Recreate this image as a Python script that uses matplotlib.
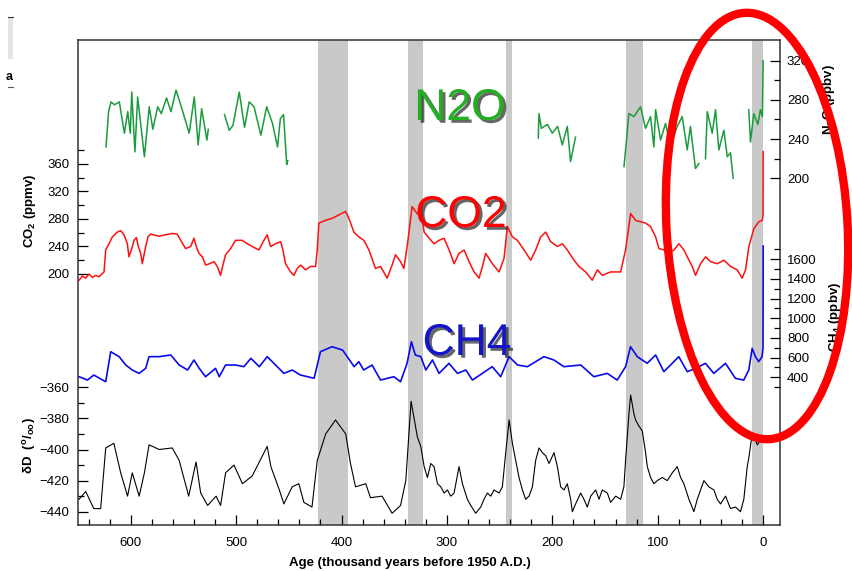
import numpy as np
import matplotlib
matplotlib.use('Agg')
import matplotlib.pyplot as plt
import matplotlib.patheffects as pe
from matplotlib.patches import Ellipse, Rectangle
from matplotlib.ticker import FixedLocator, MultipleLocator

plt.rcParams['font.family'] = ['Liberation Sans', 'DejaVu Sans']
plt.rcParams['mathtext.fontset'] = 'custom'
plt.rcParams['mathtext.rm'] = 'Liberation Sans'
plt.rcParams['mathtext.bf'] = 'Liberation Sans:bold'
plt.rcParams['mathtext.it'] = 'Liberation Sans:italic'

# ---- data (age in kyr before 1950) ----
co2_age = [649, 645.8, 642.7, 639.5, 636.4, 633.2, 630, 625.3, 623.7, 620.6, 617.4, 612.7, 609.5,
           606.3, 603.2, 601.6, 598.4, 596.9, 594.6, 592.8, 590.5, 589, 585.8, 583.6, 581,
           573.2, 566.8, 560.5, 555.8, 552.6, 547.9, 543.1, 540, 537.8, 535.2, 532, 528.9,
           525.1, 521, 517.9, 514.7, 512.5, 510, 505.2, 500.5, 494.2, 489.4, 484.7, 478.4,
           473.6, 470.5, 467.3, 462.6, 457.8, 455.6, 453.1, 448.3, 445.2, 442, 438.9, 434.1,
           429.4, 424.6, 423, 421.5, 415.2, 408.8, 402.5, 396.2, 393, 388.3, 383.6, 378.8,
           374, 367.8, 363, 356.7, 352, 348.8, 344, 340.9, 337.7, 333, 328.3, 323.5,
           321.6, 316.9, 312.2, 307.4, 302.7, 297.9, 293.2, 288.5, 283.7, 279, 274.2, 269.5,
           266.3, 263.2, 256.9, 250.5, 245.8, 242.6, 237.9, 233.2, 226.8, 220.5, 215.8, 211,
           206.3, 201.6, 195.2, 190.5, 185.8, 179.4, 174.7, 168.4, 162.1, 157.3, 152.6, 144.7,
           135.2, 130.5, 125.7, 121, 116.2, 111.5, 106.8, 102, 98.9, 94.1, 89.4, 84.6, 79.9,
           75.2, 72, 67.3, 64.1, 59.4, 54.6, 49.9, 43.6, 37.2, 30.9, 24.6, 19.9, 16.7, 13.5,
           8.8, 4.1, 0.9, 0.1, -0.05]
co2_val = [191, 197, 194, 200, 195, 198, 196, 203, 235, 244, 254, 261, 263,
           257, 244, 225, 240, 249, 253, 240, 230, 215, 240, 254, 258,
           255, 257, 259, 258, 249, 237, 240, 252, 240, 230, 225, 213,
           215, 218, 211, 198, 213, 228, 237, 249, 249, 244, 240, 235,
           249, 257, 240, 244, 247, 235, 215, 203, 198, 208, 213, 206,
           211, 211, 235, 274, 278, 281, 286, 291, 281, 261, 254, 249,
           235, 208, 211, 194, 213, 228, 218, 208, 240, 298, 288, 281,
           261, 252, 244, 249, 252, 235, 215, 230, 235, 218, 203, 194,
           211, 230, 215, 203, 223, 269, 254, 249, 235, 220, 235, 254,
           261, 247, 240, 244, 235, 220, 211, 203, 191, 206, 198, 203,
           203, 235, 288, 278, 276, 274, 269, 254, 237, 235, 230, 235, 244,
           235, 225, 211, 198, 215, 225, 218, 215, 220, 211, 206, 194, 206, 240,
           266, 276, 278, 285, 378]

dd_age = [649, 642.7, 635, 628.5, 623.7, 616, 609.5, 603, 598.5, 592, 587, 582.6, 573, 560.6,
          554, 545, 538, 533.6, 527, 519, 514.7, 510, 502, 494, 484.7, 470.5, 467, 459,
          454.7, 446.8, 440.5, 435.7, 428, 423, 415, 405.7, 396, 391.5, 386.7, 377, 372.5,
          361.5, 352, 344, 339, 334, 328,
          324.8, 321.6, 318.5, 315.3, 312.2, 309, 305.8, 302.7, 299.5, 296.4, 293.2, 288.5,
          285.3, 280.6, 277.4, 272.7, 267.9, 264.8, 261.6, 258.4, 255.3, 250.5, 247.4, 244.2,
          241, 237.9, 234.7, 231.6, 228.4, 225.3, 222.1, 218.9, 215.8, 212.6, 209.5, 206.3,
          203.1, 198.4, 195.2, 192.1, 188.9, 185.8, 182.6, 181, 177.9, 173.1, 170, 166.8,
          163.6, 158.9, 155.7, 152.6, 147.8, 144.7, 139.9, 135.2, 132.1, 130.5, 127.3, 125.7,
          122.6, 121, 117.8, 114.7, 111.5, 109.9, 106.8, 103.6, 100.4, 95.7, 91, 86.2, 81.5,
          78.3, 75.2, 70.4, 65.7, 62.5, 59.4, 56.2, 51.5, 46.7, 43.6, 40.4, 35.7, 30.9, 26.2,
          21.5, 18.3, 15.1, 13.5, 10.4, 7.2, 5.6, 2.5, -0.7]
dd_val = [-432, -427, -438, -438, -399, -396, -415, -430, -415, -430, -415, -397, -400, -399,
          -407, -430, -408, -428, -436, -430, -436, -415, -410, -422, -417, -398, -411, -426,
          -435, -424, -422, -434, -437, -407, -390, -381, -390, -409, -424, -422, -431,
          -430, -441, -436, -420, -369, -392,
          -398, -411, -418, -409, -411, -422, -424, -428, -426, -430, -428, -411,
          -422, -432, -436, -441, -437, -432, -428, -430, -426, -428, -424, -402,
          -381, -396, -407, -418, -426, -432, -430, -424, -407, -399, -402, -404,
          -409, -402, -411, -424, -426, -422, -432, -440, -435, -428, -432, -437,
          -430, -426, -432, -426, -428, -434, -430, -432, -424, -407, -377, -365,
          -377, -381, -385, -388, -402, -411, -418, -422, -420, -418, -420, -415, -411,
          -418, -422, -432, -440, -432, -426, -420, -424, -426, -432, -435, -430, -438, -437,
          -440, -432, -411, -405, -390, -394, -397, -394, -393]

ch4_age = [649, 641, 635, 623.7, 619, 611, 604.7, 598.5, 592, 585.8, 582.6, 573, 562, 554,
           546, 540, 535, 529, 519.5, 516, 510, 500.5, 492.6, 486, 478, 470.5, 462.6, 454.7,
           446.8, 438.9, 426, 420, 409, 399, 388, 383.6, 379, 371, 363, 350.4, 344, 337.8,
           333.7, 330, 324.8, 320, 313.7, 307.5, 298, 290, 282, 275.8, 266.4, 257, 249, 241,
           233, 223.7, 215.8, 208, 198.5, 189, 173, 160.6, 147.9, 138.4, 130.5, 125.8, 119.4,
           110, 102, 94.2, 86.3, 80, 72, 64, 54.7, 46.8, 35.7, 26.3, 18.4, 13.6, 10.4, 7.3,
           4.2, 1, 0.1, -0.05]
ch4_val = [406, 372, 423, 355, 660, 610, 525, 474, 440, 491, 610, 610, 627, 525,
           474, 576, 491, 406, 491, 406, 525, 525, 508, 593, 508, 610, 525, 440,
           474, 423, 390, 660, 711, 677, 508, 559, 474, 525, 372, 406, 355, 542,
           762, 627, 610, 474, 576, 440, 542, 440, 474, 372, 440, 508, 406, 610,
           525, 508, 559, 610, 576, 508, 525, 406, 440, 372, 508, 711, 610,
           542, 627, 457, 542, 610, 457, 491, 542, 440, 542, 389, 372, 474, 694, 610,
           559, 610, 700, 1735]

nan = np.nan
n2o_age = [623.4, 621, 618.7, 615.5, 610.8, 606, 602.8, 600.4, 599, 596, 593.4, 587, 582.4, 579,
           574.4, 571, 566, 561.8, 557, 552, 544.5, 539.7, 536, 532.7, 527.7, 526.4, nan,
           511, 506.5, 503, 497, 492, 487.6, 483, 476.5, 471, 465.5, 460.7, 458, 455, 452, 451, nan,
           213.3, 212.7, 210.4, 204.7, 200, 195, 190.5, 185.8, 182.7, 178, nan,
           132, 129.6, 127.4, 122.6, 116.3, 111.6, 106.8, 103.7, 102, 97.3, 92.6, 87.9, 81.5,
           76.8, 72, 69, 64.2, 61, nan,
           54.7, 53, 48.3, 45.2, 42, 37.3, 34, 31, 28.4, nan,
           13.6, 12, 8.9, 5, 2.6, 0.7, -0.05]
n2o_val = [232, 268, 278, 275, 278, 246, 268, 246, 288, 227, 283, 222, 273, 250,
           273, 266, 282, 268, 290, 273, 246, 283, 234, 271, 239, 250, nan,
           265, 249, 254, 288, 252, 278, 273, 244, 273, 256, 232, 261, 265, 214, 218, nan,
           241, 266, 251, 255, 246, 253, 234, 253, 217, 242, nan,
           212, 239, 266, 263, 273, 251, 263, 232, 270, 239, 256, 232, 253,
           263, 229, 253, 210, 215, nan,
           220, 268, 246, 270, 229, 249, 222, 226, 200, nan,
           270, 237, 266, 255, 270, 263, 320]

# interglacial bands (kyr)
bands = [(422, 394), (337, 323), (244, 238), (130, 114), (11, 0)]

W, H = 852, 571
fig = plt.figure(figsize=(W / 100, H / 100), dpi=100)
fig.patch.set_facecolor('white')

top_px, bot_px = 39.5, 525
ax = fig.add_axes([78 / W, 1 - bot_px / H, (780 - 78) / W, (bot_px - top_px) / H])
ax.set_xlim(650, -16)
ax.set_yticks([])
ax.xaxis.set_major_locator(MultipleLocator(100))
ax.xaxis.set_minor_locator(MultipleLocator(20))
ax.tick_params(axis='x', which='major', direction='in', length=7.5, width=0.9, pad=9,
               labelsize=9.5)
ax.tick_params(axis='x', which='minor', direction='in', length=4.5, width=0.9)
for s in ax.spines.values():
    s.set_linewidth(1.1)
    s.set_color('#333333')

for a0, a1 in bands:
    ax.axvspan(a0, a1, color='#c9c9c9', lw=0, zorder=0)


def twin(side, anchor1, anchor2, majors, minors):
    tw = ax.twinx()
    (v1, y1), (v2, y2) = anchor1, anchor2
    f = lambda y: v1 + (y - y1) * (v2 - v1) / (y2 - y1)
    tw.set_ylim(f(bot_px), f(top_px))
    for s in tw.spines.values():
        s.set_visible(False)
    tw.yaxis.set_ticks_position(side)
    tw.yaxis.set_major_locator(FixedLocator(majors))
    tw.yaxis.set_minor_locator(FixedLocator(minors))
    pad = 6 if side == 'left' else 5
    tw.tick_params(axis='y', which='major', direction='in', length=7.5, width=0.9,
                   pad=pad, labelsize=9.5)
    tw.tick_params(axis='y', which='minor', direction='in', length=4.5, width=0.9)
    return tw


ax_co2 = twin('left', (360, 164), (200, 274), [200, 240, 280, 320, 360],
              [220, 260, 300, 340, 380])
ax_dd = twin('left', (-360, 387.3), (-440, 511.7), [-440, -420, -400, -380, -360],
             [-430, -410, -390, -370])
ax_n2o = twin('right', (320, 60.7), (200, 178.3), [200, 240, 280, 320], [220, 260, 300])
ax_ch4 = twin('right', (1600, 259.3), (400, 377.3), list(range(400, 1601, 200)),
              list(range(300, 1701, 200)))

ax_co2.plot(co2_age, co2_val, color='#ff1010', lw=1.1)
ax_dd.plot(dd_age, dd_val, color='black', lw=0.8)
ax_ch4.plot(ch4_age, ch4_val, color='#0a0aee', lw=1.2)
ax_n2o.plot(n2o_age, n2o_val, color='#1a9c3c', lw=1.1)

# axis titles
fig.text(410 / W, 1 - 563 / H, 'Age (thousand years before 1950 A.D.)', ha='center',
         va='center', fontsize=9.5, fontweight='bold')
fig.text(30 / W, 1 - 211 / H, r'CO$_\mathbf{2}$ (ppmv)', rotation=90, ha='center',
         va='center', fontsize=9.5, fontweight='bold')
fig.text(29 / W, 1 - 446 / H, r'δD  ($\mathbf{^{o}/_{oo}}$)', rotation=90, ha='center',
         va='center', fontsize=9.5, fontweight='bold')
fig.text(829 / W, 1 - 100 / H, r'N$_\mathbf{2}$O (ppbv)', rotation=90, ha='center',
         va='center', fontsize=9.5, fontweight='bold')
fig.text(835 / W, 1 - 317 / H, r'CH$_\mathbf{4}$ (ppbv)', rotation=90, ha='center',
         va='center', fontsize=9.5, fontweight='bold')

# big gas names with shadow
shadow = [pe.SimplePatchShadow(offset=(2, -2), shadow_rgbFace='black', alpha=0.6),
          pe.Normal()]
for name, col, cx, base in [('N2O', '#22b022', 460, 120), ('CO2', '#ff0000', 461, 227),
                            ('CH4', '#1515c8', 467, 355)]:
    fig.text(cx / W, 1 - base / H, name, color=col, fontsize=32, ha='center',
             va='baseline', path_effects=shadow, zorder=10)

# red highlight ellipse
ell = Ellipse((757 / 100, (H - 226) / 100), 1.81, 4.27, angle=3.3, fill=False,
              edgecolor='#ff0000', lw=6, transform=fig.dpi_scale_trans, zorder=20)
fig.add_artist(ell)

# screenshot leftovers at top-left
fig.add_artist(Rectangle((8 / W, 1 - 59 / H), 5 / W, 42 / H, transform=fig.transFigure,
                         facecolor='#e4e4e4', edgecolor='none'))
fig.add_artist(plt.Line2D([8 / W, 13 / W], [1 - 16.5 / H] * 2, color='#333333', lw=0.8))
fig.add_artist(plt.Line2D([8 / W, 13 / W], [1 - 87 / H] * 2, color='#555555', lw=0.8))
fig.text(13 / W, 1 - 77 / H, 'a', ha='right', va='center', fontsize=9, fontweight='bold')

fig.savefig('out.png', dpi=100, facecolor='white')
